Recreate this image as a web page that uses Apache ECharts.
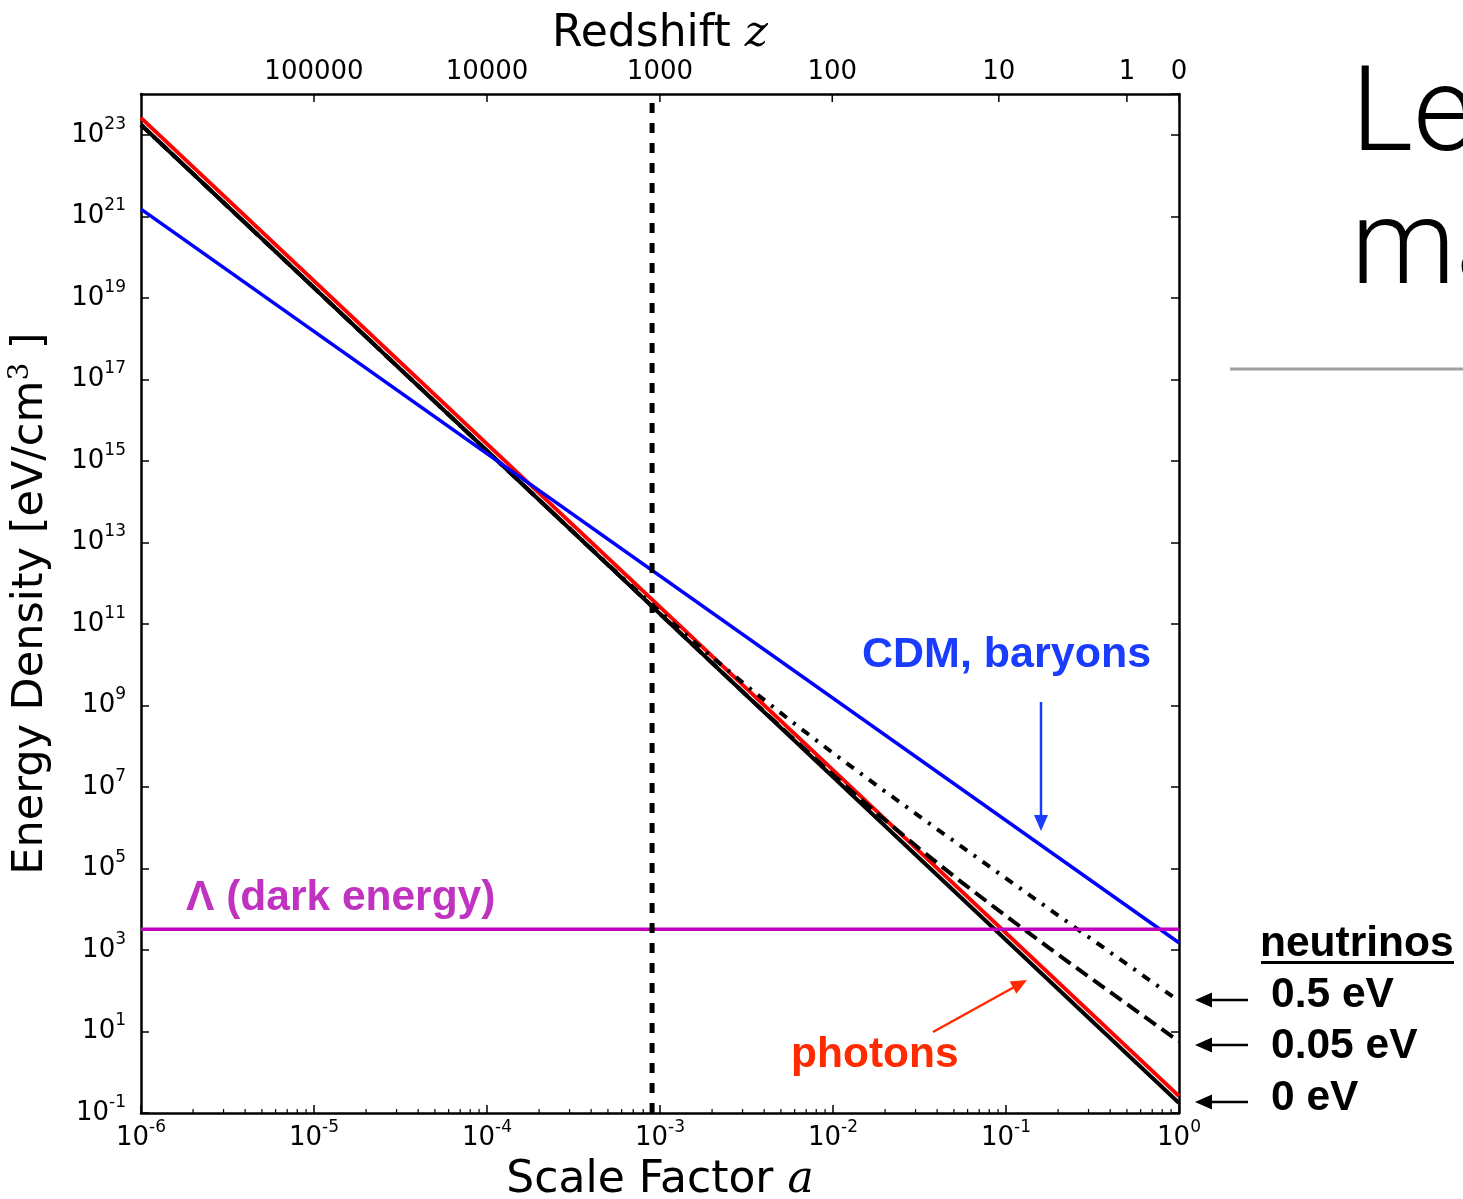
<!DOCTYPE html>
<html>
<head>
<meta charset="utf-8">
<script src="https://cdn.jsdelivr.net/npm/echarts@6/dist/echarts.min.js"></script>
<style>
  html, body { margin: 0; padding: 0; background: #fff; }
  #chart { width: 1463px; height: 1199px; }
</style>
</head>
<body>
<div id="chart"></div>
<script>
// Axis ranges: scale factor a and energy density in eV/cm^3
const aRange = [1e-6, 1];
const rhoRange = [1e-1, 1e24];

// Redshift values marked along the top axis
const redshiftTicks = [100000, 10000, 1000, 100, 10, 1, 0];

// Energy density curves, as [scale factor a, energy density (eV/cm^3)]
const photons = [[1e-6, 2.6e23], [1, 0.26]];
const neutrinos0eV = [[1e-6, 1.76e23], [1, 0.176]];
const neutrinos005eV = [
  [1e-6, 1.76e23], [1e-3, 1.76e11], [3.16e-3, 1.78e9], [5.62e-3, 1.84e8],
  [0.01, 1.98e7], [0.0178, 2.33e6], [0.0316, 3.03e5], [0.0562, 4.37e4],
  [0.1, 6.79e3], [0.178, 1.11e3], [0.316, 189], [1, 5.71]
];
const neutrinos05eV = [
  [1e-6, 1.76e23], [1e-4, 1.76e15], [3.16e-4, 1.78e13], [5.62e-4, 1.84e12],
  [1e-3, 1.98e11], [1.78e-3, 2.33e10], [3.16e-3, 3.03e9], [5.62e-3, 4.37e8],
  [0.01, 6.79e7], [0.0178, 1.11e7], [0.0316, 1.89e6], [0.1, 5.71e4],
  [0.316, 1.78e3], [1, 56.0]
];
const matter = [[1e-6, 1.5e21], [1, 1.5e3]];
const darkEnergy = [[1e-6, 3.2e3], [1, 3.2e3]];

// Recombination (z ~ 1100)
const recombinationA = 9.0e-4;

// Log-spaced minor tick positions (2..9 x each decade) for the bottom axis
const minorTicks = [];
for (let d = -6; d < 0; d++) {
  for (let k = 2; k <= 9; k++) minorTicks.push([k * Math.pow(10, d), rhoRange[0]]);
}

const TICK_FONT = '"DejaVu Sans", sans-serif';
const TITLE_FONT = '"DejaVu Sans", sans-serif';
const NOTE_FONT = '"Liberation Sans", Arial, sans-serif';

function powLabel(v) {
  const e = Math.round(Math.log10(v));
  return '{b|10}{s|' + e + '}';
}
const powRich = {
  b: { fontFamily: TICK_FONT, fontSize: 26, lineHeight: 26, color: '#000', verticalAlign: 'bottom' },
  s: { fontFamily: TICK_FONT, fontSize: 17, lineHeight: 17, color: '#000', verticalAlign: 'bottom', padding: [0, 0, 15, 0] }
};

const chart = echarts.init(document.getElementById('chart'), null, { renderer: 'canvas' });

function lineSeries(data, color, width, type, z) {
  return {
    type: 'line', data: data, showSymbol: false, symbol: 'none', silent: true,
    clip: true, z: z,
    lineStyle: { color: color, width: width, type: type, cap: 'butt' }
  };
}

// Arrow helper: shaft from (x1,y1) to tip (x2,y2) with a filled head
function arrow(x1, y1, x2, y2, color, width, headLen, headHalf) {
  const dx = x2 - x1, dy = y2 - y1;
  const len = Math.sqrt(dx * dx + dy * dy);
  const ux = dx / len, uy = dy / len;
  const bx = x2 - ux * headLen, by = y2 - uy * headLen;
  const px = -uy * headHalf, py = ux * headHalf;
  return [
    { type: 'line', shape: { x1: x1, y1: y1, x2: bx + ux, y2: by + uy },
      style: { stroke: color, lineWidth: width }, z: 100 },
    { type: 'polygon', shape: { points: [[x2, y2], [bx + px, by + py], [bx - px, by - py]] },
      style: { fill: color }, z: 100 }
  ];
}

function note(text, x, y, color, size) {
  return {
    type: 'text', z: 100,
    style: { text: text, x: x, y: y, fill: color, align: 'left', verticalAlign: 'middle',
             font: 'bold ' + (size || 42.5) + 'px ' + NOTE_FONT }
  };
}

const HEAD_FONT = '300 118px Roboto, "Liberation Sans", sans-serif';

const graphics = [
  note('CDM, baryons', 862, 655, '#1a3cff', 43),
  note('\u039b (dark energy)', 186, 898, '#c032c0'),
  note('photons', 791, 1055, '#ff2a00'),
  note('neutrinos', 1260, 944, '#000'),
  { type: 'rect', z: 100, shape: { x: 1261, y: 961, width: 193, height: 3 }, style: { fill: '#000' } },
  note('0.5 eV', 1271, 995, '#000'),
  note('0.05 eV', 1271, 1046, '#000'),
  note('0 eV', 1271, 1098, '#000'),
  // slide heading fragment and rule to the right of the chart
  { type: 'text', z: 100, style: { text: 'Le', x: 1351, y: 120, fill: '#000', verticalAlign: 'middle', font: HEAD_FONT } },
  { type: 'text', z: 100, style: { text: 'ma', x: 1351, y: 253, fill: '#000', verticalAlign: 'middle', font: HEAD_FONT } },
  { type: 'line', z: 100, shape: { x1: 1230, y1: 369, x2: 1463, y2: 369 }, style: { stroke: '#a0a0a0', lineWidth: 3 } }
]
  .concat(arrow(1041, 702, 1041, 831, '#1a3cff', 2.5, 16, 7))
  .concat(arrow(933, 1032, 1027, 980, '#ff2a00', 2.5, 16, 7))
  .concat(arrow(1248, 1000, 1195, 1000, '#000', 2.5, 17, 7.5))
  .concat(arrow(1248, 1045, 1195, 1045, '#000', 2.5, 17, 7.5))
  .concat(arrow(1248, 1102, 1195, 1102, '#000', 2.5, 17, 7.5));

const axisLine = { show: true, onZero: false, lineStyle: { color: '#000', width: 2.5 } };
const italicRich = { i: { fontFamily: '"DejaVu Serif", serif', fontStyle: 'italic', fontSize: 44, color: '#000' } };

const option = {
  animation: false,
  backgroundColor: '#fff',
  grid: { left: 141, right: 284, top: 94, bottom: 86, containLabel: false, outerBoundsMode: 'none' },
  xAxis: [
    {
      type: 'log', logBase: 10, min: aRange[0], max: aRange[1], interval: 1,
      position: 'bottom',
      name: 'Scale Factor {i|a}', nameLocation: 'middle', nameGap: 46, nameMoveOverlap: false,
      nameTextStyle: { fontFamily: TITLE_FONT, fontSize: 44, color: '#000', rich: italicRich },
      axisLine: axisLine,
      axisTick: { show: true, inside: true, length: 8, lineStyle: { color: '#000', width: 1.5 } },
      minorTick: { show: false },
      axisLabel: { show: true, margin: 12, formatter: powLabel, rich: powRich,
                   showMinLabel: true, showMaxLabel: true, hideOverlap: false },
      splitLine: { show: false }
    },
    {
      type: 'log', logBase: 10, min: aRange[0], max: aRange[1], interval: 1,
      position: 'top',
      name: 'Redshift {i|z}', nameLocation: 'middle', nameGap: 37, nameMoveOverlap: false,
      nameTextStyle: { fontFamily: TITLE_FONT, fontSize: 44, color: '#000', rich: italicRich },
      axisLine: axisLine,
      axisTick: { show: false },
      axisLabel: { show: false },
      splitLine: { show: false }
    }
  ],
  yAxis: [
    {
      type: 'log', logBase: 10, min: rhoRange[0], max: rhoRange[1], interval: 2,
      position: 'left',
      name: 'Energy Density [eV/cm{s|3} ]', nameLocation: 'middle', nameGap: 86, nameRotate: 90,
      nameMoveOverlap: false,
      nameTextStyle: { fontFamily: TITLE_FONT, fontSize: 43, color: '#000',
        rich: { s: { fontFamily: '"DejaVu Serif", serif', fontSize: 28, color: '#000', padding: [0, 0, 20, 0] } } },
      axisLine: axisLine,
      axisTick: { show: true, inside: true, length: 8, lineStyle: { color: '#000', width: 1.5 } },
      axisLabel: { show: true, margin: 15, formatter: powLabel, rich: powRich,
                   showMinLabel: true, showMaxLabel: false, hideOverlap: false },
      splitLine: { show: false }
    },
    {
      type: 'log', logBase: 10, min: rhoRange[0], max: rhoRange[1], interval: 2,
      position: 'right',
      axisLine: axisLine,
      axisTick: { show: true, inside: true, length: 8, lineStyle: { color: '#000', width: 1.5 } },
      axisLabel: { show: false },
      splitLine: { show: false }
    }
  ],
  series: [
    lineSeries(neutrinos0eV, '#000', 4, 'solid', 2),
    lineSeries(photons, '#ff0000', 4, 'solid', 3),
    lineSeries(neutrinos005eV, '#000', 4, [14, 7], 4),
    lineSeries(neutrinos05eV, '#000', 4, [9, 8, 3, 8], 4),
    lineSeries(matter, '#0000ff', 3.5, 'solid', 5),
    lineSeries(darkEnergy, '#bf00bf', 3.5, 'solid', 6),
    lineSeries([[recombinationA, rhoRange[0]], [recombinationA, rhoRange[1]]], '#000', 5, [10, 10], 7),
    {
      // log-spaced minor ticks on the bottom axis
      type: 'custom', silent: true, clip: false, z: 8,
      data: minorTicks,
      renderItem: function (params, api) {
        const p = api.coord([api.value(0), rhoRange[0]]);
        return { type: 'line', shape: { x1: p[0], y1: p[1], x2: p[0], y2: p[1] - 4 },
                 style: { stroke: '#000', lineWidth: 1.2 } };
      }
    },
    {
      // redshift ticks and labels along the top axis
      type: 'custom', silent: true, clip: false, z: 8,
      data: redshiftTicks.map(function (z) { return [1 / (1 + z), rhoRange[1], z]; }),
      renderItem: function (params, api) {
        const p = api.coord([api.value(0), rhoRange[1]]);
        return { type: 'group', children: [
          { type: 'line', shape: { x1: p[0], y1: p[1], x2: p[0], y2: p[1] + 8 },
            style: { stroke: '#000', lineWidth: 1.5 } },
          { type: 'text', style: { text: String(api.value(2)), x: p[0], y: p[1] - 9,
            align: 'center', verticalAlign: 'bottom', font: '26px ' + TICK_FONT, fill: '#000' } }
        ] };
      }
    }
  ],
  graphic: graphics
};

chart.setOption(option);
</script>
</body>
</html>
